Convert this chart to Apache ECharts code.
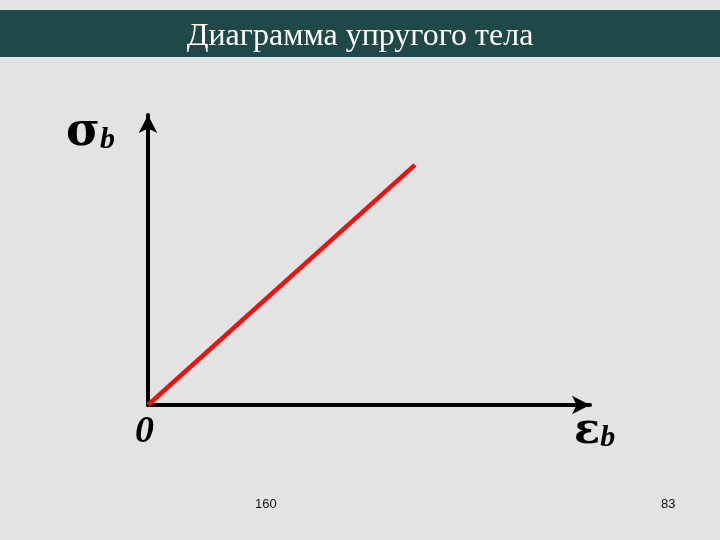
<!DOCTYPE html>
<html>
<head>
<meta charset="utf-8">
<script src="https://cdn.jsdelivr.net/npm/echarts@6/dist/echarts.min.js"></script>
<style>
  html, body { margin: 0; padding: 0; }
  #chart { width: 720px; height: 540px; }
</style>
</head>
<body>
<div id="chart"></div>
<script>
// значения диаграммы
var strain = [0, 60.4];      // εb
var stress = [0, 82.8];      // σb
var titleText = 'Диаграмма упругого тела';
var pageNums = ['160', '83'];

var lineData = strain.map(function (x, i) { return [x, stress[i]]; });

var myChart = echarts.init(document.getElementById('chart'));
var option = {
    backgroundColor: '#e3e3e3',
    animation: false,
    grid: {
        left: 148,
        right: 130,
        top: 115,
        bottom: 135
    },
    xAxis: {
        type: 'value',
        min: 0,
        max: 100,
        axisLine: {
            show: true,
            symbol: ['none', 'arrow'],
            symbolSize: [14, 18],
            lineStyle: { color: '#000', width: 4 }
        },
        axisTick: { show: false },
        axisLabel: { show: false },
        splitLine: { show: false }
    },
    yAxis: {
        type: 'value',
        min: 0,
        max: 100,
        axisLine: {
            show: true,
            symbol: ['none', 'arrow'],
            symbolSize: [14, 18],
            lineStyle: { color: '#000', width: 4 }
        },
        axisTick: { show: false },
        axisLabel: { show: false },
        splitLine: { show: false }
    },
    series: [{
        type: 'line',
        data: lineData,
        symbol: 'none',
        lineStyle: { color: '#e8140f', width: 4.5 },
        z: 3
    }],
    graphic: [
        {
            type: 'rect',
            left: 0, top: 10,
            shape: { width: 720, height: 47 },
            style: { fill: '#1f4848' }
        },
        {
            type: 'text',
            left: 'center', top: 21,
            style: {
                text: titleText,
                fill: '#fff',
                font: '32px "Liberation Serif", serif'
            }
        },
        {
            type: 'text',
            left: 66, top: 110,
            style: {
                text: '{s|σ}{b|b}',
                rich: {
                    s: { font: 'bold 46px "DejaVu Serif", serif', fill: '#000' },
                    b: { font: 'italic bold 30px "Liberation Serif", serif', fill: '#000', padding: [14, 0, 0, 0] }
                }
            }
        },
        {
            type: 'text',
            left: 135, top: 413,
            style: {
                text: '0',
                fill: '#000',
                font: 'italic bold 38px "Liberation Serif", serif'
            }
        },
        {
            type: 'text',
            left: 574, top: 410,
            style: {
                text: '{s|ε}{b|b}',
                rich: {
                    s: { font: 'bold 43px "DejaVu Serif", serif', fill: '#000' },
                    b: { font: 'italic bold 30px "Liberation Serif", serif', fill: '#000', padding: [14, 0, 0, 0] }
                }
            }
        },
        {
            type: 'text',
            left: 255, top: 498,
            style: { text: pageNums[0], fill: '#111', font: '13px "Liberation Sans", sans-serif' }
        },
        {
            type: 'text',
            left: 661, top: 498,
            style: { text: pageNums[1], fill: '#111', font: '13px "Liberation Sans", sans-serif' }
        }
    ]
};
myChart.setOption(option);
</script>
</body>
</html>
